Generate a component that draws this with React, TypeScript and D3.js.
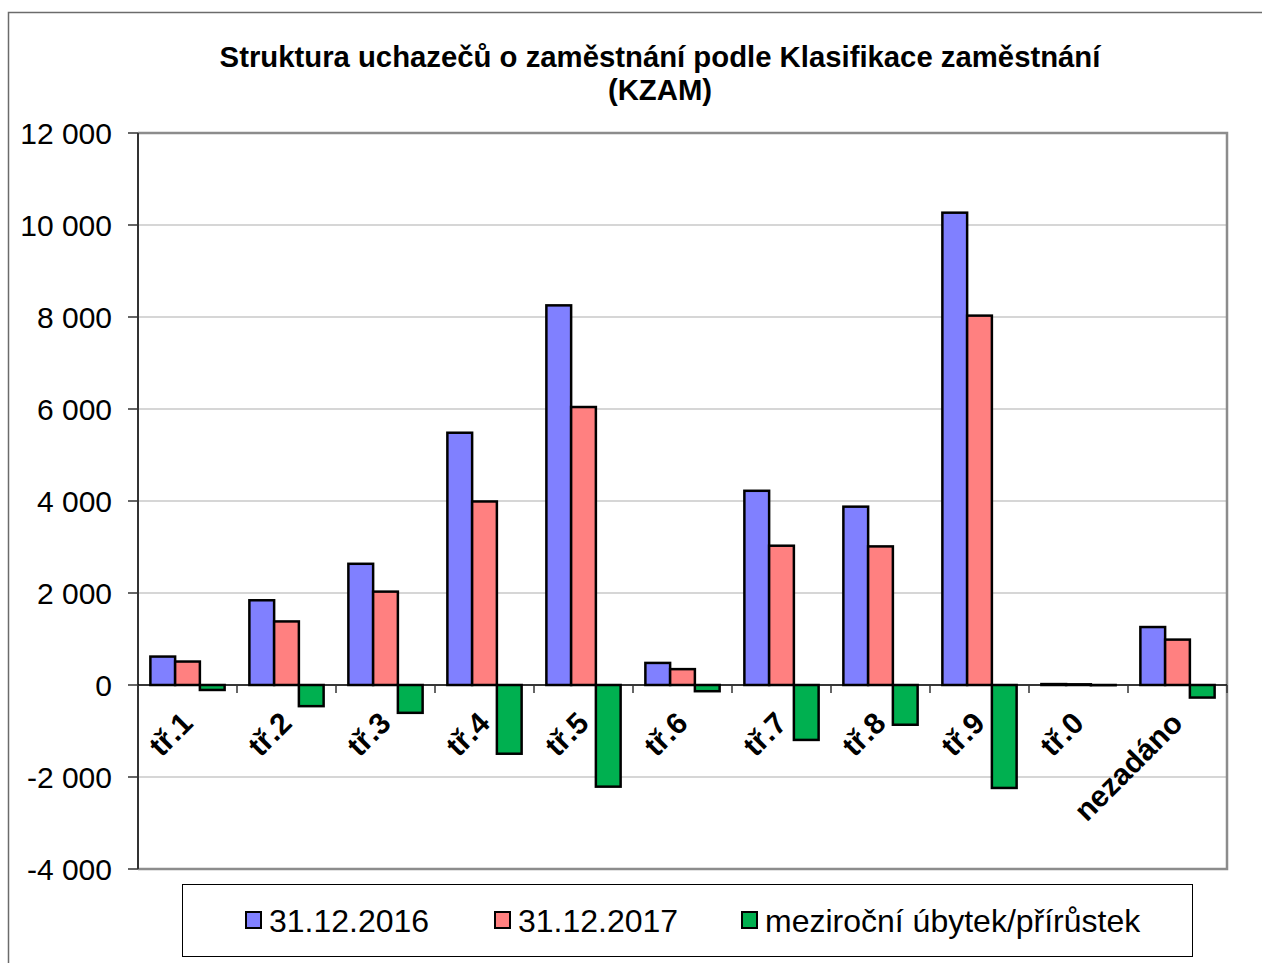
import React from 'react';
import * as d3 from 'd3';

// data
const categories = ['tř.1', 'tř.2', 'tř.3', 'tř.4', 'tř.5', 'tř.6', 'tř.7', 'tř.8', 'tř.9', 'tř.0', 'nezadáno'];
const series2016 = [618, 1842, 2635, 5484, 8253, 480, 4222, 3877, 10268, 20, 1260];
const series2017 = [510, 1382, 2030, 3990, 6043, 345, 3028, 3013, 8030, 15, 987];
const seriesDiff = [-108, -460, -605, -1494, -2210, -135, -1194, -864, -2238, -5, -273];
const seriesNames = ['31.12.2016', '31.12.2017', 'meziroční úbytek/přírůstek'];
const seriesColors = ['#8080ff', '#ff8080', '#00b050'];
const yTicks = [-4000, -2000, 0, 2000, 4000, 6000, 8000, 10000, 12000];
const titleLines = ['Struktura uchazečů o zaměstnání podle Klasifikace zaměstnání', '(KZAM)'];

const FONT = '"Liberation Sans", Arial, sans-serif';

const locale = d3.formatLocale({ decimal: ',', thousands: ' ', grouping: [3], currency: ['', ' Kč'], minus: '-' });
const fmt = locale.format(',d');

export default function App() {
  // plot area in page pixels
  const plot = { left: 138, right: 1227, top: 133, bottom: 869 };

  const xScale = d3.scaleBand<string>().domain(categories).range([plot.left, plot.right]);
  const bw = xScale.bandwidth();
  const inner = d3
    .scaleBand<number>()
    .domain([0, 1, 2])
    .range([bw * 0.125, bw * 0.875]);

  const yScale = d3.scaleLinear().domain([-4000, 12000]).range([plot.bottom, plot.top]);
  const y0 = yScale(0);

  const allSeries = [series2016, series2017, seriesDiff];

  const legendX = [246, 495, 742];

  return (
    <svg
      width={1262}
      height={963}
      style={{ position: 'absolute', left: 0, top: 0, background: '#fff' }}
      fontFamily={FONT}
    >
      {/* outer chart border */}
      <rect x={8.5} y={12.5} width={1310} height={1000} fill="#fff" stroke="#6b6b6b" strokeWidth={1.5} />

      {/* title */}
      {titleLines.map((t, i) => (
        <text key={t} x={660} y={67 + i * 33} textAnchor="middle" fontSize={29.3} fontWeight="bold" fill="#000">
          {t}
        </text>
      ))}

      {/* gridlines */}
      {yTicks
        .filter((v) => v !== 12000 && v !== -4000)
        .map((v) => (
          <line key={v} x1={plot.left} x2={plot.right} y1={yScale(v)} y2={yScale(v)} stroke="#c8c8c8" strokeWidth={1.5} />
        ))}

      {/* plot area border */}
      <path
        d={`M${plot.left},${plot.top}H${plot.right}V${plot.bottom}H${plot.left}`}
        fill="none"
        stroke="#8c8c8c"
        strokeWidth={2.5}
      />

      {/* y axis */}
      <line x1={plot.left} x2={plot.left} y1={plot.top} y2={plot.bottom} stroke="#333" strokeWidth={2} />
      {yTicks.map((v) => (
        <g key={v}>
          <line x1={plot.left - 10} x2={plot.left} y1={yScale(v)} y2={yScale(v)} stroke="#333" strokeWidth={1.5} />
          <text x={112} y={yScale(v)} dy="0.36em" textAnchor="end" fontSize={30} fill="#000">
            {fmt(v)}
          </text>
        </g>
      ))}

      {/* bars */}
      {allSeries.map((vals, si) =>
        vals.map((v, ci) => {
          const x = (xScale(categories[ci]) as number) + (inner(si) as number);
          const y = yScale(Math.max(0, v));
          const h = Math.abs(yScale(v) - y0);
          return (
            <rect
              key={`${si}-${ci}`}
              x={x}
              y={y}
              width={inner.bandwidth()}
              height={h}
              fill={seriesColors[si]}
              stroke="#000"
              strokeWidth={2.5}
            />
          );
        })
      )}

      {/* x axis at zero */}
      <line x1={plot.left} x2={plot.right} y1={y0} y2={y0} stroke="#000" strokeWidth={1.5} />
      {categories.map((c) => (
        <line key={c} x1={xScale(c) as number} x2={xScale(c) as number} y1={y0} y2={y0 + 8} stroke="#333" strokeWidth={1.5} />
      ))}
      <line x1={plot.right} x2={plot.right} y1={y0} y2={y0 + 8} stroke="#333" strokeWidth={1.5} />

      {/* category labels */}
      {categories.map((c) => {
        const cx = (xScale(c) as number) + bw / 2;
        return (
          <text
            key={c}
            transform={`translate(${cx + 7},${725}) rotate(-45)`}
            textAnchor="end"
            fontSize={30}
            fontWeight="bold"
            fill="#000"
          >
            {c}
          </text>
        );
      })}

      {/* legend */}
      <rect x={182.5} y={884.5} width={1010} height={72} fill="#fff" stroke="#000" strokeWidth={1} />
      {seriesNames.map((n, i) => (
        <g key={n}>
          <rect x={legendX[i]} y={912} width={15} height={16} fill={seriesColors[i]} stroke="#000" strokeWidth={2} />
          <text x={legendX[i] + 23} y={932} fontSize={32} fill="#000">
            {n}
          </text>
        </g>
      ))}
    </svg>
  );
}
